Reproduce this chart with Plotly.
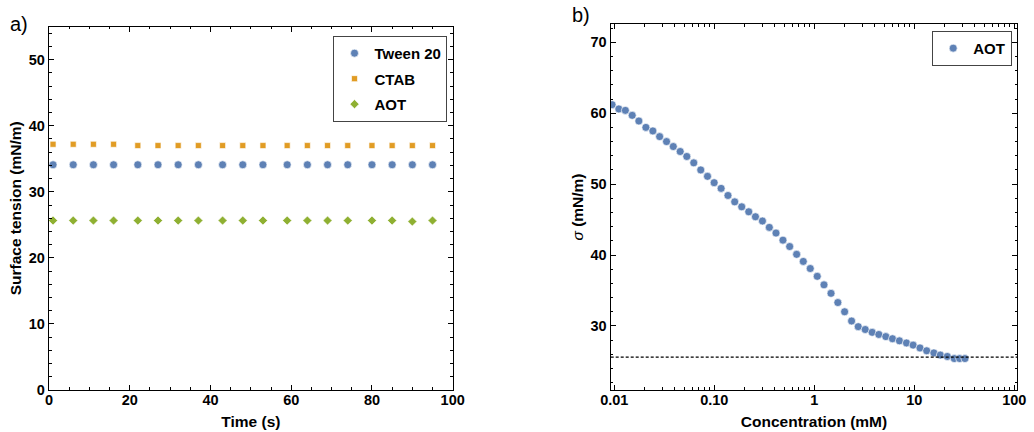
import plotly.graph_objects as go

# Panel a: surface tension vs time for three surfactants
time_s = [1, 6, 11, 16, 22, 27, 32, 37, 43, 48, 53, 59, 64, 69, 74, 80, 85, 90, 95]
tween20 = [34.1, 34.1, 34.1, 34.1, 34.1, 34.1, 34.1, 34.1, 34.1, 34.1,
           34.1, 34.1, 34.1, 34.1, 34.1, 34.1, 34.1, 34.1, 34.1]
ctab = [37.2, 37.2, 37.2, 37.2, 37.0, 37.0, 37.0, 37.0, 37.0, 37.0,
        37.0, 37.0, 37.0, 37.0, 37.0, 37.0, 37.0, 37.0, 37.0]
aot_time = [25.65, 25.65, 25.65, 25.65, 25.65, 25.65, 25.65, 25.65, 25.65, 25.65,
            25.65, 25.65, 25.65, 25.65, 25.65, 25.65, 25.65, 25.5, 25.65]

# Panel b: AOT isotherm
conc_mM = [0.0095, 0.0111, 0.0129, 0.0151, 0.0176, 0.0207, 0.0243, 0.0284, 0.0333, 0.0389,
           0.0456, 0.0531, 0.0623, 0.0732, 0.0855, 0.0996, 0.117, 0.137, 0.160, 0.188,
           0.221, 0.258, 0.303, 0.355, 0.414, 0.486, 0.567, 0.666, 0.776, 0.911,
           1.07, 1.25, 1.47, 1.72, 2.01, 2.36, 2.75, 3.23, 3.79, 4.42,
           5.19, 6.05, 7.10, 8.35, 9.73, 11.4, 13.3, 15.7, 18.2, 21.4,
           25.1, 28.4, 32.1]
sigma_aot = [61.2, 60.6, 60.4, 59.7, 58.9, 58.0, 57.5, 56.7, 56.0, 55.3,
             54.6, 53.9, 53.0, 52.0, 51.1, 50.2, 49.4, 48.4, 47.5, 46.8,
             46.1, 45.4, 44.8, 43.9, 43.1, 42.1, 41.2, 40.1, 39.1, 38.1,
             37.0, 35.8, 34.6, 33.3, 32.0, 30.7, 29.9, 29.5, 29.1, 28.8,
             28.5, 28.2, 27.9, 27.6, 27.3, 26.9, 26.5, 26.2, 25.9, 25.7,
             25.4, 25.4, 25.4]
plateau_level = 25.6

conc_tickvals = [0.01, 0.1, 1, 10, 100]
conc_ticktext = ["0.01", "0.10", "1", "10", "100"]

BLUE = "#5E81B5"
ORANGE = "#E19C24"
GREEN = "#8FB032"
FONT = "Liberation Sans, Arial, sans-serif"

W, H = 1034, 432


def px_x(v):
    return v / W


def px_y(v):
    return 1 - v / H


fig = go.Figure()

halo = dict(color="rgba(255,255,255,0.8)", width=0.8)
fig.add_trace(go.Scatter(x=time_s, y=tween20, mode="markers", name="Tween 20",
                         marker=dict(symbol="circle", size=8, color=BLUE, line=halo),
                         xaxis="x", yaxis="y", legend="legend", legendgroup="g1"))
fig.add_trace(go.Scatter(x=time_s, y=ctab, mode="markers", name="CTAB",
                         marker=dict(symbol="square", size=6, color=ORANGE, line=halo),
                         xaxis="x", yaxis="y", legend="legend", legendgroup="g2"))
fig.add_trace(go.Scatter(x=time_s, y=aot_time, mode="markers", name="AOT",
                         marker=dict(symbol="diamond", size=7, color=GREEN, line=halo),
                         xaxis="x", yaxis="y", legend="legend", legendgroup="g3"))
fig.add_trace(go.Scatter(x=conc_mM, y=sigma_aot, mode="markers", name="AOT",
                         marker=dict(symbol="circle", size=8, color=BLUE, line=halo),
                         xaxis="x2", yaxis="y2", legend="legend2"))

frame = dict(showline=True, linecolor="black", linewidth=1.3, mirror="allticks",
             ticks="inside", ticklen=5, tickwidth=1, tickcolor="black",
             showgrid=False, zeroline=False, automargin=False,
             tickfont=dict(family=FONT, size=14.5, color="black", weight="bold"),
             title_font=dict(family=FONT, size=15.5, color="black", weight="bold"))
minor = dict(ticks="inside", ticklen=2.5, tickwidth=1, tickcolor="black", showgrid=False)

log_minor = [k * 10 ** e for e in range(-3, 3) for k in range(2, 10)]

fig.update_layout(
    width=W, height=H, margin=dict(l=0, r=0, t=0, b=0, autoexpand=False),
    plot_bgcolor="white", paper_bgcolor="white",
    font=dict(family=FONT, color="black"),
    xaxis=dict(frame, domain=[px_x(49), px_x(452.7)], anchor="y", range=[0, 100],
               dtick=20, tick0=0, minor=dict(minor, dtick=5), ticklabelstandoff=-4,
               title=dict(text="Time (s)", standoff=9)),
    yaxis=dict(frame, domain=[px_y(390), px_y(26.7)], anchor="x", range=[0, 55],
               dtick=10, tick0=0, minor=dict(minor, dtick=2),
               title=dict(text="Surface tension (mN/m)", standoff=3)),
    xaxis2=dict(frame, domain=[px_x(610.7), px_x(1017.3)], anchor="y2", type="log",
                range=[-2.036, 2.03], tickvals=conc_tickvals, ticktext=conc_ticktext,
                minor=dict(minor, tickvals=log_minor), ticklabelstandoff=-4,
                title=dict(text="Concentration (mM)", standoff=9)),
    yaxis2=dict(frame, domain=[px_y(390), px_y(24)], anchor="x2", range=[20.97, 72.58],
                dtick=10, tick0=0, minor=dict(minor, dtick=2),
                title=dict(text="<span style='font-weight:normal'><i>σ</i></span> (mN/m)",
                           standoff=3)),
    legend=dict(x=px_x(447.3), y=px_y(35.7), xanchor="right", yanchor="top",
                bgcolor="white", bordercolor="#444", borderwidth=1.2,
                font=dict(family=FONT, size=15, color="black", weight="bold"),
                traceorder="grouped", tracegroupgap=3, itemclick=False),
    legend2=dict(x=px_x(1012), y=px_y(30.7), xanchor="right", yanchor="top",
                 bgcolor="white", bordercolor="#444", borderwidth=1.2,
                 font=dict(family=FONT, size=15, color="black", weight="bold")),
    showlegend=True,
)

# horizontal dashed reference level in panel b
fig.add_shape(type="line", xref="x2 domain", yref="y2", x0=0, x1=1,
              y0=plateau_level, y1=plateau_level,
              line=dict(color="black", width=1.2, dash="3px,2px"))

# panel letters
fig.add_annotation(text="a)", xref="paper", yref="paper", x=px_x(19), y=px_y(24),
                   xanchor="center", yanchor="middle", showarrow=False,
                   font=dict(family=FONT, size=20, color="black"))
fig.add_annotation(text="b)", xref="paper", yref="paper", x=px_x(581), y=px_y(15),
                   xanchor="center", yanchor="middle", showarrow=False,
                   font=dict(family=FONT, size=20, color="black"))

fig.write_html("out.html")
